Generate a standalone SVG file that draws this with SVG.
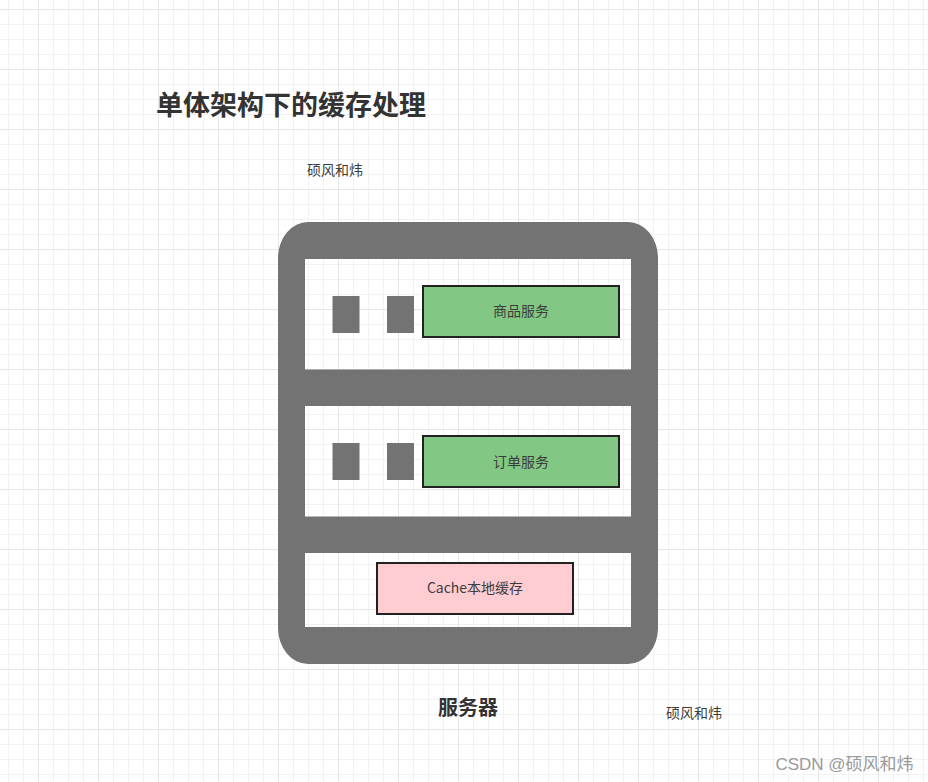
<svg xmlns="http://www.w3.org/2000/svg" width="928" height="782" viewBox="0 0 928 782">
<style>
text{font-family:"Liberation Sans","Noto Sans CJK SC",sans-serif;fill:#3c3c3c;text-anchor:middle}
.t{font-family:"Noto Sans CJK SC","Liberation Sans",sans-serif;font-weight:700;fill:#333}
.l{font-size:14px;font-family:"Noto Sans CJK SC","Liberation Sans",sans-serif}
.g{fill:#737373}
.box{stroke:#222;stroke-width:2}
</style>
<defs>
<pattern id="minor" width="15" height="15" patternUnits="userSpaceOnUse" x="8" y="9"><path d="M0.5 0V15M0 0.5H15" fill="none" stroke="#f2f2f2" stroke-width="1"/></pattern>
<pattern id="major" width="60" height="60" patternUnits="userSpaceOnUse" x="38" y="9"><path d="M0.5 0V60M0 0.5H60" fill="none" stroke="#e6e6e6" stroke-width="1"/></pattern>
</defs>
<rect width="928" height="782" fill="#fff"/>
<rect width="928" height="782" fill="url(#minor)"/>
<rect width="928" height="782" fill="url(#major)"/>
<g id="connectors"/>
<g id="title"><text class="t" x="291" y="115" font-size="27">单体架构下的缓存处理</text></g>
<g id="author-top"><text class="l" x="335" y="175">硕风和炜</text></g>
<g id="server">
<path class="g" fill-rule="evenodd" d="M308 222H628A30 36 0 0 1 658 258V628A30 36 0 0 1 628 664H308A30 36 0 0 1 278 628V258A30 36 0 0 1 308 222ZM305 259V369.500H631V259ZM305 406V516.500H631V406ZM305 553V627H631V553Z"/>
<rect class="g" x="332.500" y="296" width="27" height="37"/>
<rect class="g" x="387" y="296" width="27" height="37"/>
<rect class="g" x="332.500" y="443" width="27" height="37"/>
<rect class="g" x="387" y="443" width="27" height="37"/>
</g>
<g id="product-service"><rect class="box" x="423" y="286" width="196" height="51" fill="#82c884"/><text class="l" x="521" y="316">商品服务</text></g>
<g id="order-service"><rect class="box" x="423" y="436" width="196" height="51" fill="#82c884"/><text class="l" x="521" y="467">订单服务</text></g>
<g id="local-cache"><rect class="box" x="377" y="563" width="196" height="51" fill="#ffccd2"/><text class="l" x="475" y="593">Cache本地缓存</text></g>
<g id="server-label"><text class="t" x="468" y="715" font-size="20" style="text-anchor:middle">服务器</text></g>
<g id="author-bottom"><text class="l" x="694" y="718">硕风和炜</text></g>
<g id="watermark"><text x="844.500" y="770" font-size="17" style="fill:#9a9a9a">CSDN @硕风和炜</text></g>
</svg>
